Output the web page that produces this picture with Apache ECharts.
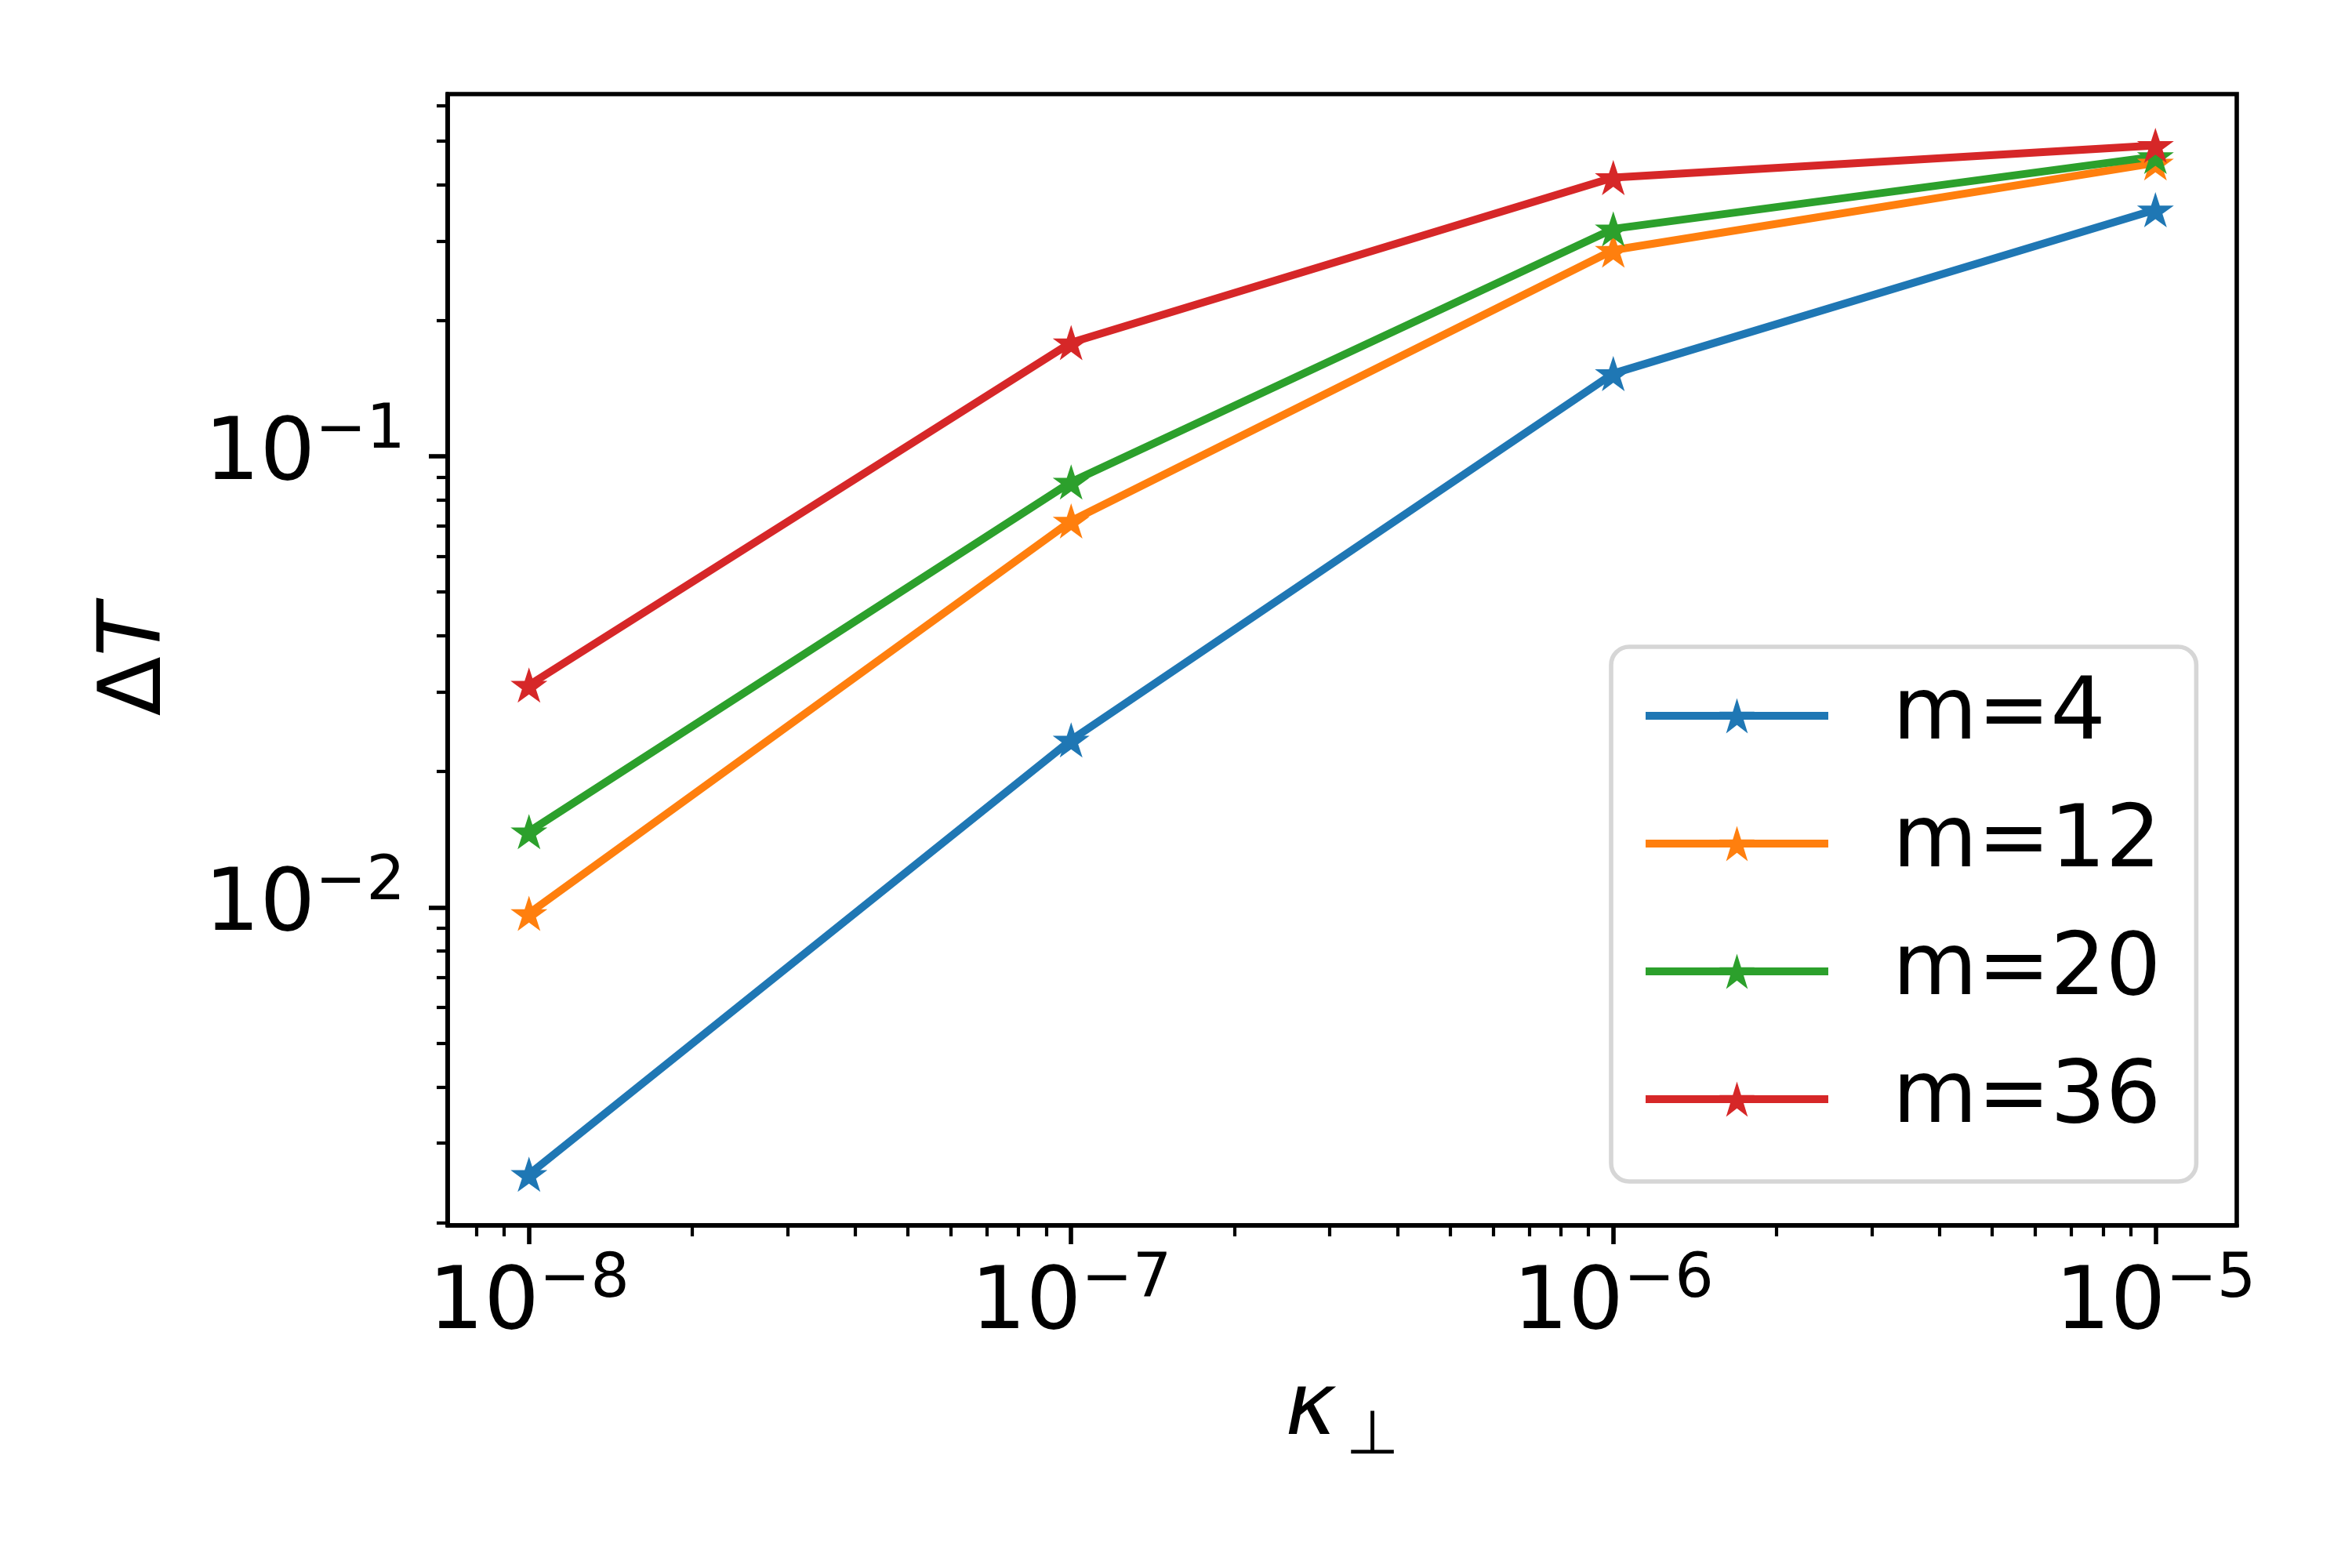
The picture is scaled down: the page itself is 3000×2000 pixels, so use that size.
<!DOCTYPE html>
<html>
<head>
<meta charset="utf-8">
<script src="https://cdn.jsdelivr.net/npm/echarts@6/dist/echarts.min.js"></script>
<style>
  html, body { margin: 0; padding: 0; background: #fff; }
  #chart { width: 3000px; height: 2000px; }
</style>
</head>
<body>
<div id="chart"></div>
<script>
const kappa = [1e-8, 1e-7, 1e-6, 1e-5];
const m4 = [0.00256, 0.0235, 0.1526, 0.352];
const m12 = [0.0097, 0.0719, 0.2865, 0.447];
const m20 = [0.01472, 0.0877, 0.3193, 0.462];
const m36 = [0.0311, 0.1787, 0.415, 0.489];
const seriesNames = ['m=4', 'm=12', 'm=20', 'm=36'];
const seriesColors = ['#1f77b4', '#ff7f0e', '#2ca02c', '#d62728'];

const xMajorTicks = [1e-8, 1e-7, 1e-6, 1e-5];
const xMinorTicks = [8e-9, 9e-9,
    2e-8, 3e-8, 4e-8, 5e-8, 6e-8, 7e-8, 8e-8, 9e-8,
    2e-7, 3e-7, 4e-7, 5e-7, 6e-7, 7e-7, 8e-7, 9e-7,
    2e-6, 3e-6, 4e-6, 5e-6, 6e-6, 7e-6, 8e-6, 9e-6];
const yMajorTicks = [0.01, 0.1];
const yMinorTicks = [0.002, 0.003, 0.004, 0.005, 0.006, 0.007, 0.008, 0.009,
    0.02, 0.03, 0.04, 0.05, 0.06, 0.07, 0.08, 0.09,
    0.2, 0.3, 0.4, 0.5, 0.6];

const xMin = Math.pow(10, -8.15);
const xMax = Math.pow(10, -4.85);
const yMin = Math.pow(10, -2.705);
const yMax = Math.pow(10, -0.197);

const FONT = 'DejaVu Sans';
const STAR = 'path://M0,-100 L22.45,-30.9 L95.11,-30.9 L36.33,11.8 L58.78,80.9 L0,38.2 L-58.78,80.9 L-36.33,11.8 L-95.11,-30.9 L-22.45,-30.9 Z';

const powRich = {
    b: { fontFamily: FONT, fontSize: 111, lineHeight: 140, color: '#000' },
    s: { fontFamily: FONT, fontSize: 78, lineHeight: 78, verticalAlign: 'top', color: '#000' }
};

function powLabel(value) {
    const e = Math.round(Math.log10(value));
    return '{b|10}{s|' + (e < 0 ? '\u2212' + (-e) : e) + '}';
}

function makeSeries(name, values, color) {
    return {
        name: name,
        type: 'line',
        data: kappa.map((k, i) => [k, values[i]]),
        symbol: STAR,
        symbolSize: [47, 45],
        showSymbol: true,
        lineStyle: { color: color, width: 10 },
        itemStyle: { color: color },
        emphasis: { disabled: true },
        animation: false
    };
}

const chart = echarts.init(document.getElementById('chart'));

const axisLine = { show: true, lineStyle: { color: '#000', width: 5.6 } };

const option = {
    backgroundColor: '#fff',
    animation: false,
    grid: {
        left: 571, right: 147, top: 120, bottom: 437,
        show: true, borderColor: '#000', borderWidth: 5.6, backgroundColor: 'transparent'
    },
    legend: {
        orient: 'vertical',
        left: 2055,
        top: 825,
        data: seriesNames,
        itemWidth: 233,
        itemHeight: 56,
        itemGap: 43,
        padding: [28, 45, 45, 39],
        backgroundColor: 'rgba(255,255,255,0.8)',
        borderColor: '#d6d6d6',
        borderWidth: 5.6,
        borderRadius: 23,
        lineStyle: { width: 10 },
        textStyle: {
            fontFamily: FONT, fontSize: 111, lineHeight: 120, color: '#000',
            padding: [0, 0, 0, 77]
        }
    },
    xAxis: [
        {
            type: 'log',
            min: xMin, max: xMax,
            name: '{k|\u03ba}{p|\u22a5}',
            nameLocation: 'middle',
            nameGap: 165,
            nameTextStyle: {
                rich: {
                    k: { fontFamily: FONT, fontSize: 111, fontStyle: 'italic', lineHeight: 145, color: '#000' },
                    p: { fontFamily: FONT, fontSize: 78, lineHeight: 78, verticalAlign: 'bottom', color: '#000', padding: [0, 0, 0, 12] }
                }
            },
            axisLine: axisLine,
            axisTick: { show: true, length: 24, lineStyle: { color: '#000', width: 5.6 }, customValues: xMajorTicks },
            axisLabel: { show: true, margin: 32, customValues: xMajorTicks, formatter: powLabel, rich: powRich },
            splitLine: { show: false },
            minorTick: { show: false }
        },
        {
            type: 'log',
            min: xMin, max: xMax,
            position: 'bottom',
            axisLine: { show: false },
            axisTick: { show: true, length: 14, lineStyle: { color: '#000', width: 4.2 }, customValues: xMinorTicks },
            axisLabel: { show: false },
            splitLine: { show: false }
        }
    ],
    yAxis: [
        {
            type: 'log',
            min: yMin, max: yMax,
            name: '{d|\u0394}{t|T}',
            nameLocation: 'middle',
            nameGap: 340,
            nameTextStyle: {
                rich: {
                    d: { fontFamily: FONT, fontSize: 111, color: '#000' },
                    t: { fontFamily: FONT, fontSize: 111, fontStyle: 'italic', color: '#000' }
                }
            },
            axisLine: axisLine,
            axisTick: { show: true, length: 24, lineStyle: { color: '#000', width: 5.6 }, customValues: yMajorTicks },
            axisLabel: { show: true, margin: 54, customValues: yMajorTicks, formatter: powLabel, rich: powRich },
            splitLine: { show: false },
            minorTick: { show: false }
        },
        {
            type: 'log',
            min: yMin, max: yMax,
            position: 'left',
            axisLine: { show: false },
            axisTick: { show: true, length: 14, lineStyle: { color: '#000', width: 4.2 }, customValues: yMinorTicks },
            axisLabel: { show: false },
            splitLine: { show: false }
        }
    ],
    series: [
        makeSeries(seriesNames[0], m4, seriesColors[0]),
        makeSeries(seriesNames[1], m12, seriesColors[1]),
        makeSeries(seriesNames[2], m20, seriesColors[2]),
        makeSeries(seriesNames[3], m36, seriesColors[3])
    ]
};

chart.setOption(option);
</script>
</body>
</html>
